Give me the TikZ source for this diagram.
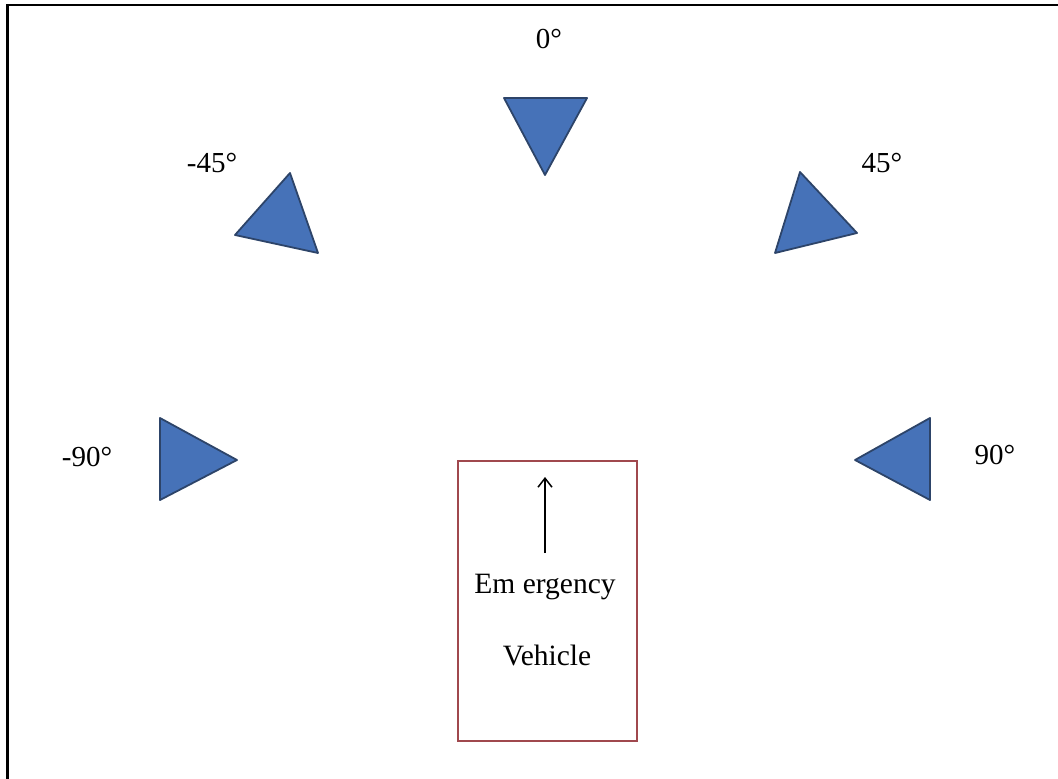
\documentclass[tikz,border=0pt]{standalone}
\usepackage{fontspec}
\usetikzlibrary{arrows.meta}
\setmainfont{Liberation Serif}
\begin{document}
\begin{tikzpicture}[x=1pt,y=-1pt,
  tri/.style={fill=triblue,draw=triedge,line width=1.8pt,line join=round},
  lbl/.style={font=\fontsize{29}{32}\selectfont,inner sep=0pt},
  vlbl/.style={font=\fontsize{29.5}{32}\selectfont,inner sep=0pt,align=center}]
\definecolor{triblue}{RGB}{70,114,184}
\definecolor{triedge}{RGB}{45,68,105}
\definecolor{boxred}{RGB}{160,72,78}
\useasboundingbox (0,0) rectangle (1058,779);
\draw[line width=2.2pt] (7.5,779) -- (7.5,5) -- (1058,5);
% triangles
\draw[tri] (504,98) -- (587,98) -- (545,175) -- cycle;
\draw[tri] (290,173) -- (318,253) -- (235,235) -- cycle;
\draw[tri] (800,172) -- (857,233) -- (775,253) -- cycle;
\draw[tri] (160,418) -- (237,460) -- (160,500) -- cycle;
\draw[tri] (930,418) -- (855,460) -- (930,500) -- cycle;
% labels
\node[lbl] (l0) at (549,39) {0°};
\node[lbl] (lm45) at (212,163) {-45°};
\node[lbl] (l45) at (882,163) {45°};
\node[lbl] (lm90) at (87,457) {-90°};
\node[lbl] (l90) at (995,455) {90°};
% vehicle box
\draw[boxred,line width=2.4pt] (458,461) rectangle (637,741);
\coordinate (atail) at (545,553);
\coordinate (ahead) at (545,477);
\draw[-{Straight Barb[length=9pt,width=14pt]},line width=1.5pt] (atail) -- (ahead);
\node[vlbl] (t1) at (545,587) {Em ergency};
\node[vlbl] (t2) at (547,655) {Vehicle};
\end{tikzpicture}
\end{document}
